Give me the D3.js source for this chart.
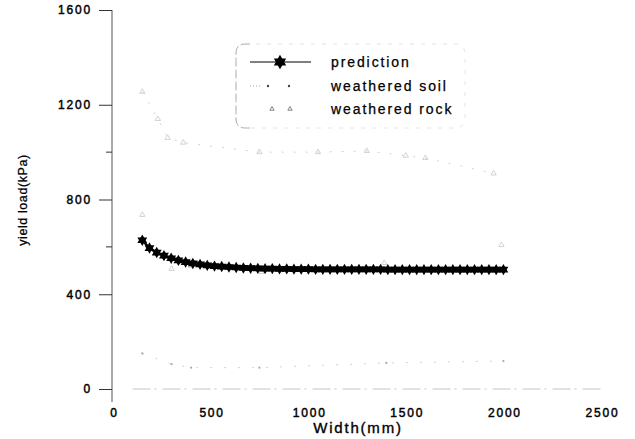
<!DOCTYPE html>
<html>
<head>
<meta charset="utf-8">
<script src="https://cdn.jsdelivr.net/npm/d3@7"></script>
<style>
  body { margin: 0; background: #fff; }
  text { font-family: "Liberation Sans", Arial, sans-serif; fill: #000; }
</style>
</head>
<body>
<div class="chart"></div>
<script>
// prediction curve (width in mm, yield load in kPa)
const predWidth = [150,187,224,261,298,335,372,409,446,483,520,557,594,631,668,705,742,779,816,853,890,927,964,1001,1038,1075,1112,1149,1186,1223,1260,1297,1334,1371,1408,1445,1482,1519,1556,1593,1630,1667,1704,1741,1778,1815,1852,1889,1926,1963,2000];
const predLoad  = [628,595,576,563,552,543,536,530,526,522,519,517,515,513,511,510,509,508,508,507,507,506,506,506,505,505,505,505,505,505,505,505,505,505,504,504,504,504,504,504,504,504,504,504,504,504,504,504,504,504,504];

// measured points (faint in the scan)
const soilWidth = [150, 300, 400, 750, 1400, 2000];
const soilLoad  = [150, 105, 90, 90, 110, 118];

const rockWidth = [150, 230, 280, 360, 750, 1050, 1300, 1500, 1600, 1950];
const rockLoad  = [1255, 1140, 1060, 1040, 1000, 1000, 1005, 985, 975, 910];

const rock2Width = [150, 300, 400, 760, 1390, 1990];
const rock2Load  = [735, 507, 520, 494, 532, 608];

const yMajor = [0, 400, 800, 1200, 1600];
const yMinor = [600, 1000];
const xTicks = [0, 500, 1000, 1500, 2000, 2500];

const legendLabels = ["prediction", "weathered soil", "weathered rock"];

const W = 635, H = 439;

const svg = d3.select(".chart").append("svg")
    .attr("width", W)
    .attr("height", H);

const x = d3.scaleLinear().domain([0, 2500]).range([113, 601]);
const y = d3.scaleLinear().domain([0, 1600]).range([389, 10]);

// faint x axis baseline
svg.append("line")
    .attr("x1", x(100)).attr("x2", x(2500))
    .attr("y1", y(0)).attr("y2", y(0))
    .attr("stroke", "#c4c4c4")
    .attr("stroke-width", 1)
    .attr("stroke-dasharray", "18,4,2,6");

const tickText = sel => sel
    .attr("font-family", "Liberation Sans, Arial, sans-serif")
    .attr("font-size", 12)
    .attr("letter-spacing", 1.8)
    .attr("fill", "#000")
    .attr("stroke", "#000")
    .attr("stroke-width", 0.45);

// y axis
const yAxis = g => g
    .attr("transform", "translate(112,0)")
    .call(d3.axisLeft(y).tickValues(yMajor).tickFormat(d3.format("d"))
        .tickSizeInner(13).tickSizeOuter(0).tickPadding(7))
    .call(g => g.select(".domain").attr("stroke", "#555").attr("d", `M0,${y(1600)}V${y(-55)}`))
    .call(g => g.selectAll(".tick line").attr("stroke", "#333"))
    .call(g => g.selectAll(".tick text").call(tickText));

svg.append("g").call(yAxis);

svg.append("g")
    .selectAll("line")
    .data(yMinor)
    .join("line")
    .attr("x1", 106).attr("x2", 112)
    .attr("y1", d => y(d)).attr("y2", d => y(d))
    .attr("stroke", "#333");

// x axis labels only
const xAxis = g => g
    .attr("transform", `translate(0,${y(0)})`)
    .call(d3.axisBottom(x).tickValues(xTicks).tickFormat(d3.format("d")).tickSize(0).tickPadding(19))
    .call(g => g.select(".domain").remove())
    .call(g => g.selectAll(".tick text").attr("dx", 1).call(tickText));

svg.append("g").call(xAxis);

// axis titles
svg.append("text")
    .attr("x", 358).attr("y", 433)
    .attr("text-anchor", "middle")
    .attr("font-size", 15)
    .attr("letter-spacing", 1.8)
    .attr("stroke", "#000").attr("stroke-width", 0.35)
    .text("Width(mm)");

svg.append("text")
    .attr("transform", "translate(27,200) rotate(-90)")
    .attr("text-anchor", "middle")
    .attr("font-size", 12.5)
    .attr("letter-spacing", 0.6)
    .attr("stroke", "#000").attr("stroke-width", 0.25)
    .text("yield  load(kPa)");

// measured data, drawn faint like the scan
const faint = "#d2d2d2";
const soil = soilWidth.map((w, i) => ({w, v: soilLoad[i]}));
const rock = rockWidth.map((w, i) => ({w, v: rockLoad[i]}));
const rock2 = rock2Width.map((w, i) => ({w, v: rock2Load[i]}));

const line = d3.line().x(d => x(d.w)).y(d => y(d.v));

svg.append("path").datum(soil)
    .attr("d", line).attr("fill", "none")
    .attr("stroke", faint).attr("stroke-width", 1)
    .attr("stroke-dasharray", "2,12");
svg.append("g").selectAll("circle")
    .data(soil).join("circle")
    .attr("cx", d => x(d.w)).attr("cy", d => y(d.v))
    .attr("r", 1.1).attr("fill", "#aaa");

svg.append("path").datum(rock)
    .attr("d", line).attr("fill", "none")
    .attr("stroke", faint).attr("stroke-width", 1)
    .attr("stroke-dasharray", "2,10");
const tri = d3.symbol(d3.symbolTriangle, 12);
svg.append("g").selectAll("path")
    .data(rock.concat(rock2)).join("path")
    .attr("transform", d => `translate(${x(d.w)},${y(d.v)})`)
    .attr("d", tri)
    .attr("fill", "none")
    .attr("stroke", "#c6c6c6")
    .attr("stroke-width", 0.8);

// prediction line with 6-point stars
const pred = predWidth.map((w, i) => ({w, v: predLoad[i]}));
svg.append("path").datum(pred)
    .attr("d", line).attr("fill", "none")
    .attr("stroke", "#000").attr("stroke-width", 2.4);

const star = (sel, size) => {
    const t = d3.symbol(d3.symbolTriangle, size)();
    sel.append("path").attr("d", t).attr("fill", "#000");
    sel.append("path").attr("d", t).attr("transform", "rotate(180)").attr("fill", "#000");
};

svg.append("g").selectAll("g")
    .data(pred).join("g")
    .attr("transform", d => `translate(${x(d.w)},${y(d.v)})`)
    .each(function() { star(d3.select(this), 42); });

// legend
const lg = svg.append("g");
lg.append("rect")
    .attr("x", 236).attr("y", 44).attr("width", 229).attr("height", 84)
    .attr("rx", 9)
    .attr("fill", "none")
    .attr("stroke", "#e4e4e4")
    .attr("stroke-dasharray", "4,7");
lg.append("path")
    .attr("d", "M250,44 H245 Q236,44 236,53 V119 Q236,128 245,128 H250")
    .attr("fill", "none")
    .attr("stroke", "#b4b4b4")
    .attr("stroke-dasharray", "9,3");

const rowY = [62, 86, 109];
lg.append("line").attr("x1", 250).attr("x2", 311).attr("y1", rowY[0]).attr("y2", rowY[0])
    .attr("stroke", "#000").attr("stroke-width", 1.2);
star(lg.append("g").attr("transform", `translate(280,${rowY[0]})`), 66);

lg.append("line").attr("x1", 250).attr("x2", 262).attr("y1", rowY[1]).attr("y2", rowY[1])
    .attr("stroke", "#aaa").attr("stroke-dasharray", "1,2");
lg.selectAll(".sdot").data([268, 289]).join("circle")
    .attr("cx", d => d).attr("cy", rowY[1]).attr("r", 1.2).attr("fill", "#444");

lg.selectAll(".rmark").data([272, 290]).join("path")
    .attr("transform", d => `translate(${d},${rowY[2]})`)
    .attr("d", d3.symbol(d3.symbolTriangle, 8))
    .attr("fill", "none").attr("stroke", "#666").attr("stroke-width", 0.8);

lg.selectAll("text").data(legendLabels).join("text")
    .attr("x", 331).attr("y", (d, i) => rowY[i])
    .attr("dy", "0.35em")
    .attr("font-size", 14)
    .attr("letter-spacing", 1.9)
    .attr("stroke", "#000").attr("stroke-width", 0.25)
    .text(d => d);
</script>
</body>
</html>
